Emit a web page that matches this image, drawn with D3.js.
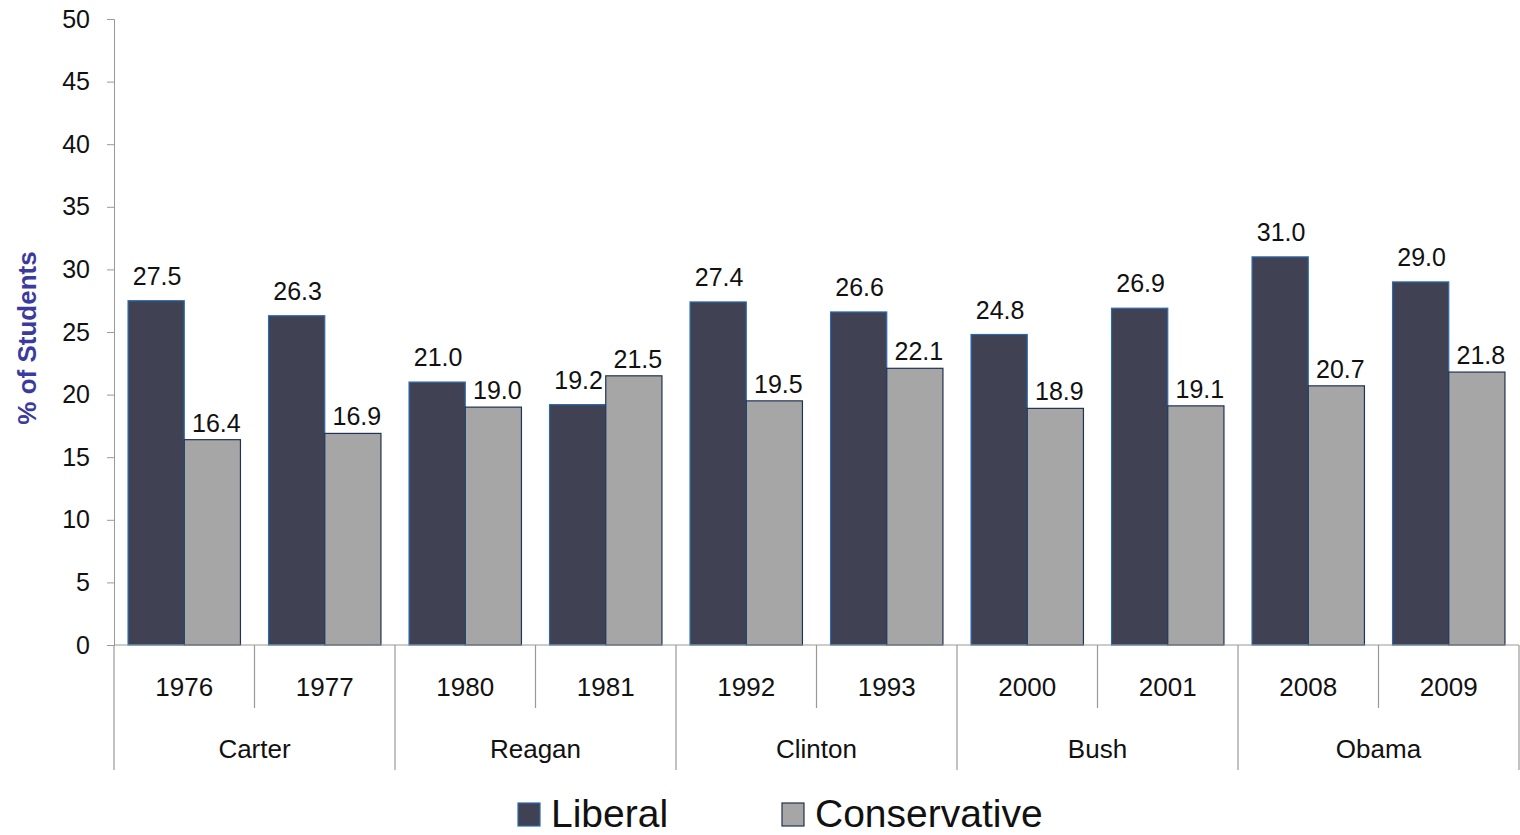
<!DOCTYPE html>
<html>
<head>
<meta charset="utf-8">
<script src="https://cdn.jsdelivr.net/npm/d3@7"></script>
<style>
  body { margin: 0; background: #fff; }
  svg text { font-family: "Liberation Sans", Arial, sans-serif; }
</style>
</head>
<body>
<div id="chart"></div>
<script>
const years = ["1976", "1977", "1980", "1981", "1992", "1993", "2000", "2001", "2008", "2009"];
const presidents = ["Carter", "Reagan", "Clinton", "Bush", "Obama"];
const liberal = [27.5, 26.3, 21.0, 19.2, 27.4, 26.6, 24.8, 26.9, 31.0, 29.0];
const conservative = [16.4, 16.9, 19.0, 21.5, 19.5, 22.1, 18.9, 19.1, 20.7, 21.8];
const yTicks = [0, 5, 10, 15, 20, 25, 30, 35, 40, 45, 50];
const seriesNames = ["Liberal", "Conservative"];

const W = 1520, H = 835;
const M = { l: 114, r: 1519, t: 19, b: 645 };
const fill = { Liberal: "#404152", Conservative: "#a6a6a6" };
const edge = { Liberal: "#2a6bb0", Conservative: "#1f3352" };
// label offsets above the bar top (the original puts conservative labels closer)
const labelDy = { Liberal: -16, Conservative: -8 };
const labelDx = { Liberal: 1, Conservative: 4 };
const FS = 25;

const svg = d3.select("#chart").append("svg").attr("width", W).attr("height", H);

const x = d3.scaleBand().domain(years).range([M.l, M.r]).padding(0);
const inner = d3.scaleBand().domain(seriesNames).range([0, x.bandwidth()]).paddingInner(0).paddingOuter(0.25);
const y = d3.scaleLinear().domain([0, 50]).range([M.b, M.t]);

// y axis
const yAxis = svg.append("g").attr("transform", `translate(${M.l},0)`)
    .call(d3.axisLeft(y).tickValues(yTicks).tickSize(7).tickPadding(17));
yAxis.select(".domain").attr("stroke", "#999");
yAxis.selectAll(".tick line").attr("stroke", "#999");
yAxis.selectAll(".tick text").attr("font-size", FS).attr("fill", "#111")
    .attr("font-family", "Liberation Sans, Arial, sans-serif");

svg.append("text").attr("transform", `translate(36,${(M.t + M.b) / 2 + 6}) rotate(-90)`)
    .attr("text-anchor", "middle").attr("font-size", 26).attr("font-weight", "bold")
    .attr("fill", "#3b3b9e").text("% of Students");

// bars
const rows = years.map((yr, i) => ({ yr, Liberal: liberal[i], Conservative: conservative[i] }));
const grp = svg.append("g").selectAll("g").data(rows).join("g")
    .attr("transform", d => `translate(${x(d.yr)},0)`);
grp.selectAll("rect").data(d => seriesNames.map(k => ({ k, v: d[k] }))).join("rect")
    .attr("x", d => inner(d.k)).attr("width", inner.bandwidth())
    .attr("y", d => y(d.v)).attr("height", d => y(0) - y(d.v))
    .attr("fill", d => fill[d.k]).attr("stroke", d => edge[d.k]).attr("stroke-width", 1.2);
grp.selectAll("text").data(d => seriesNames.map(k => ({ k, v: d[k] }))).join("text")
    .attr("x", d => inner(d.k) + inner.bandwidth() / 2 + labelDx[d.k])
    .attr("y", d => y(d.v) + labelDy[d.k]).attr("text-anchor", "middle")
    .attr("font-size", FS).attr("fill", "#111").text(d => d.v.toFixed(1));

// x axis baseline and category separators
const ax = svg.append("g").attr("stroke", "#999").attr("stroke-width", 1.2);
ax.append("line").attr("x1", M.l).attr("x2", M.r).attr("y1", M.b).attr("y2", M.b);
years.forEach((yr, i) => {
    const xx = x(yr);
    const major = i % 2 === 0;
    ax.append("line").attr("x1", xx).attr("x2", xx).attr("y1", M.b).attr("y2", major ? 770 : 708);
});
ax.append("line").attr("x1", M.r).attr("x2", M.r).attr("y1", M.b).attr("y2", 770);

svg.append("g").selectAll("text").data(years).join("text")
    .attr("x", d => x(d) + x.bandwidth() / 2).attr("y", 696).attr("text-anchor", "middle")
    .attr("font-size", 26).attr("fill", "#111").text(d => d);

svg.append("g").selectAll("text").data(presidents).join("text")
    .attr("x", (d, i) => x(years[i * 2]) + x.bandwidth()).attr("y", 758).attr("text-anchor", "middle")
    .attr("font-size", 26).attr("fill", "#111").text(d => d);

// legend
const legX = [518, 782];
const leg = svg.append("g").selectAll("g").data(seriesNames).join("g")
    .attr("transform", (d, i) => `translate(${legX[i]},803)`);
leg.append("rect").attr("width", 22).attr("height", 23)
    .attr("fill", d => fill[d]).attr("stroke", d => edge[d]).attr("stroke-width", 1.2);
leg.append("text").attr("x", 33).attr("y", 24).attr("font-size", 39).attr("fill", "#111").text(d => d);
</script>
</body>
</html>
